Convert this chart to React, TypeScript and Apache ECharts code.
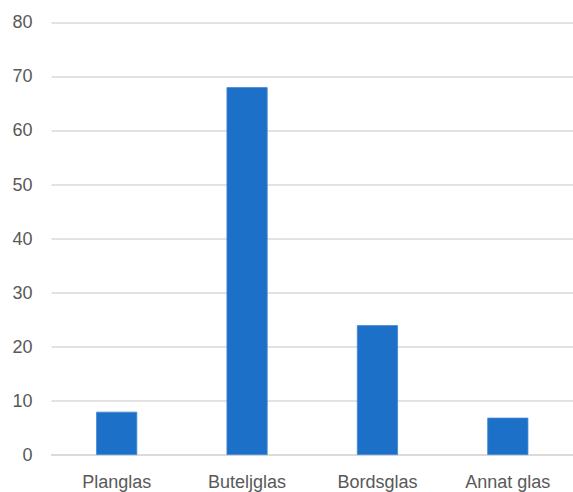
import React, { useEffect, useRef } from "react";
import * as echarts from "echarts";

const categories = ["Planglas", "Buteljglas", "Bordsglas", "Annat glas"];
const values = [8, 68, 24, 6.9];
const yMin = 0;
const yMax = 80;
const yInterval = 10;

export default function App() {
  const ref = useRef<HTMLDivElement>(null);
  useEffect(() => {
    if (!ref.current) return;
    const chart = echarts.init(ref.current, undefined, { renderer: "svg" });
    chart.setOption({
      animation: false,
      backgroundColor: "#ffffff",
      grid: { left: 51.5, right: -2.5, top: 22.3, bottom: 37, containLabel: false },
      xAxis: {
        type: "category",
        data: categories,
        axisLine: { show: true, lineStyle: { color: "#d9d9d9", width: 1.5 } },
        axisTick: { show: false },
        axisLabel: {
          color: "#595959",
          fontSize: 18,
          fontFamily: "Liberation Sans, Arial, sans-serif",
          margin: 18,
          interval: 0,
        },
      },
      yAxis: {
        type: "value",
        min: yMin,
        max: yMax,
        interval: yInterval,
        axisLine: { show: false },
        axisTick: { show: false },
        splitLine: { lineStyle: { color: "#d9d9d9", width: 1.5 } },
        axisLabel: {
          color: "#595959",
          fontSize: 18,
          fontFamily: "Liberation Sans, Arial, sans-serif",
          margin: 19,
        },
      },
      series: [
        {
          type: "bar",
          data: values,
          barWidth: "31.5%",
          itemStyle: { color: "#1D70C8", borderColor: "#3f86d4", borderWidth: 0.8 },
        },
      ],
    });
    return () => chart.dispose();
  }, []);
  return (
    <div
      ref={ref}
      style={{ position: "absolute", left: 0, top: 0, width: 573, height: 492 }}
    />
  );
}
